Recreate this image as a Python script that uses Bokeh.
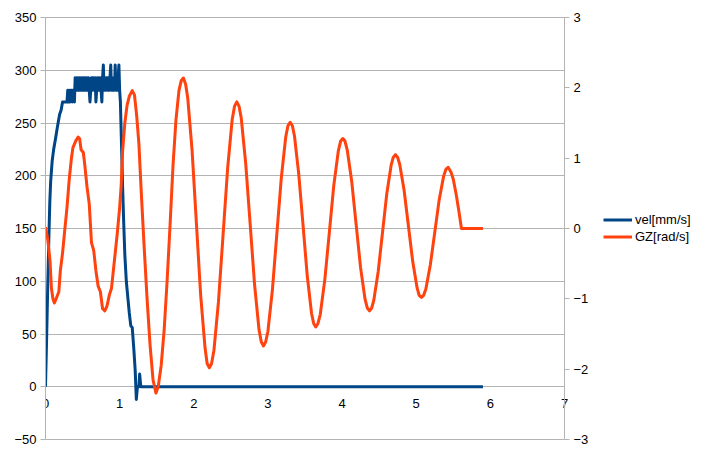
from bokeh.plotting import figure
from bokeh.models import Range1d, LinearAxis, FixedTicker, Legend, LegendItem, ColumnDataSource, BoxAnnotation
from bokeh.embed import file_html
from bokeh.resources import INLINE

# ---- data ----
vel_t = [0.0, 0.015, 0.03, 0.045, 0.058, 0.07, 0.09, 0.11, 0.135, 0.16, 0.19, 0.21, 0.23, 0.25, 0.27, 0.29,
         0.30, 0.31, 0.32, 0.33, 0.34, 0.35, 0.36, 0.37, 0.38, 0.39,
         0.40, 0.41, 0.42, 0.43, 0.44, 0.45, 0.46, 0.47, 0.48, 0.49,
         0.50, 0.51, 0.52, 0.53, 0.54, 0.55, 0.56, 0.57, 0.58, 0.59,
         0.60, 0.61, 0.62, 0.63, 0.64, 0.65, 0.66, 0.67, 0.68, 0.69,
         0.70, 0.71, 0.72, 0.73, 0.74, 0.75, 0.76, 0.77, 0.78, 0.79,
         0.80, 0.81, 0.82, 0.83, 0.84, 0.85, 0.86, 0.87, 0.88, 0.89,
         0.90, 0.91, 0.92, 0.93, 0.94, 0.95, 0.96, 0.97, 0.98, 0.99, 1.00,
         1.01, 1.025, 1.04, 1.055, 1.07, 1.09, 1.11, 1.13, 1.15, 1.17, 1.19, 1.21, 1.225,
         1.24, 1.26, 1.27, 1.285, 5.90]
vel_v = [0, 45, 95, 140, 175, 195, 214, 225, 235, 246, 258, 262, 270, 270, 270, 270,
         281, 270, 281, 270, 281, 281, 270, 281, 281, 270,
         293, 281, 293, 281, 293, 281, 293, 281, 293, 281,
         293, 281, 293, 281, 293, 281, 293, 281, 293, 281,
         270, 281, 293, 281, 293, 293, 281, 293, 270, 281,
         293, 281, 293, 281, 293, 281, 270, 293, 305, 281,
         293, 281, 293, 293, 281, 293, 281, 293, 305, 281,
         293, 281, 293, 281, 305, 281, 293, 281, 293, 305, 281,
         270, 230, 190, 155, 125, 100, 85, 70, 58, 56, 37, 15, -12,
         0, 0, 12, 0, 0]

gz_t = [0.00, 0.03, 0.06, 0.08, 0.10, 0.12, 0.15, 0.18, 0.20, 0.23, 0.26, 0.29, 0.32, 0.35, 0.37,
        0.41, 0.44, 0.46, 0.48, 0.51, 0.53, 0.56, 0.59, 0.62, 0.65, 0.68, 0.71, 0.74, 0.77, 0.80,
        0.83, 0.86, 0.89, 0.92, 0.95, 0.97, 1.00, 1.02, 1.04, 1.07, 1.10, 1.13, 1.17, 1.20, 1.23,
        1.26, 1.29, 1.33, 1.37, 1.41, 1.45, 1.49, 1.52, 1.56, 1.60, 1.64, 1.68, 1.72, 1.76, 1.80,
        1.83, 1.86, 1.89, 1.918, 1.977, 2.035, 2.093, 2.152, 2.18, 2.21, 2.24, 2.272, 2.333, 2.395,
        2.457, 2.518, 2.55, 2.58, 2.61, 2.64, 2.70, 2.76, 2.82, 2.88, 2.91, 2.94, 2.97, 3.00, 3.06,
        3.12, 3.18, 3.24, 3.27, 3.30, 3.33, 3.358, 3.415, 3.473, 3.53, 3.588, 3.617, 3.645, 3.675,
        3.706, 3.767, 3.828, 3.888, 3.949, 3.98, 4.01, 4.04, 4.07, 4.13, 4.19, 4.25, 4.31, 4.34,
        4.37, 4.40, 4.428, 4.487, 4.545, 4.603, 4.662, 4.69, 4.72, 4.75, 4.778, 4.837, 4.895,
        4.953, 5.012, 5.04, 5.07, 5.10, 5.13, 5.19, 5.25, 5.31, 5.37, 5.40, 5.43, 5.47, 5.50,
        5.54, 5.575, 5.61, 5.90]
gz_v = [0.02, -0.15, -0.45, -0.85, -1.00, -1.06, -0.98, -0.90, -0.60, -0.35, -0.02, 0.30, 0.70, 1.00, 1.15,
        1.25, 1.30, 1.28, 1.12, 1.08, 0.90, 0.59, 0.35, -0.20, -0.31, -0.60, -0.82, -0.90, -1.14, -1.17,
        -1.10, -0.95, -0.85, -0.55, -0.25, -0.05, 0.30, 0.60, 1.10, 1.50, 1.75, 1.88, 1.96, 1.90, 1.60,
        1.20, 0.55, -0.25, -1.00, -1.65, -2.15, -2.34, -2.25, -1.95, -1.45, -0.75, 0.05, 0.90, 1.55, 1.96,
        2.10, 2.14, 2.05, 1.86, 1.11, 0.08, -0.95, -1.70, -1.92, -1.98, -1.92, -1.73, -1.04, -0.09,
        0.86, 1.55, 1.74, 1.80, 1.74, 1.57, 0.93, 0.07, -0.80, -1.44, -1.61, -1.67, -1.61, -1.46, -0.875,
        -0.08, 0.715, 1.30, 1.46, 1.51, 1.46, 1.315, 0.78, 0.055, -0.67, -1.205, -1.35, -1.40, -1.35,
        -1.22, -0.73, -0.06, 0.61, 1.10, 1.24, 1.28, 1.24, 1.115, 0.67, 0.055, -0.56, -1.005, -1.13,
        -1.17, -1.13, -1.02, -0.615, -0.06, 0.495, 0.90, 1.01, 1.05, 1.01, 0.91, 0.54, 0.035,
        -0.47, -0.845, -0.95, -0.98, -0.95, -0.86, -0.52, -0.055, 0.41, 0.745, 0.84, 0.87, 0.80, 0.70,
        0.48, 0.25, 0.0, 0.0]

x_ticks = [0, 1, 2, 3, 4, 5, 6, 7]
left_ticks = [-50, 0, 50, 100, 150, 200, 250, 300, 350]
right_ticks = [-3, -2, -1, 0, 1, 2, 3]
series_names = ["vel[mm/s]", "GZ[rad/s]"]

BLUE = "#004586"
ORANGE = "#ff420e"
GRID = "#b3b3b3"
FONT = "Liberation Sans"

# Plot area (in pixels of the figure): x 45..564 for 0..7, y 17..439 for 350..-50.
# The frame is extended to the whole figure so the right-hand axis/legend are never clipped.
W, H = 699, 448
X_END = 7 * (W - 45) / 519.0
Y_TOP = 350 + 17 * 400 / 422.0
Y_BOT = -50 - (H - 439) * 400 / 422.0
R_TOP = 3 + 17 * 6 / 422.0
R_BOT = -3 - (H - 439) * 6 / 422.0

p = figure(width=W, height=H, x_range=Range1d(0, X_END), y_range=Range1d(Y_BOT, Y_TOP),
           output_backend="svg", toolbar_location=None,
           min_border_left=45, min_border_right=0, min_border_top=0, min_border_bottom=0)
p.outline_line_color = None
p.background_fill_color = "white"
p.border_fill_color = "white"

p.extra_y_ranges = {"gz": Range1d(R_BOT, R_TOP)}

# grids
p.xgrid.visible = False
p.ygrid.ticker = FixedTicker(ticks=left_ticks)
p.ygrid.grid_line_color = GRID
p.ygrid.grid_line_width = 1

# white cover so grid lines stop at x = 7 (drawn right after the grid)
p.add_layout(BoxAnnotation(left=7, fill_color="white", fill_alpha=1, line_color=None, level="underlay"))

# x axis crossing at y = 0
xa = p.xaxis[0]
xa.ticker = FixedTicker(ticks=x_ticks)
xa.fixed_location = 0
xa.axis_line_color = None
xa.major_tick_out = 0
xa.major_tick_in = 0
xa.minor_tick_line_color = None
xa.major_label_standoff = 12
xa.major_label_text_font = FONT
xa.major_label_text_font_size = "13px"
xa.major_label_text_color = "#000000"

# left axis
ya = p.yaxis[0]
ya.ticker = FixedTicker(ticks=left_ticks)
ya.bounds = (-50, 350)
ya.axis_line_color = GRID
ya.major_tick_line_color = GRID
ya.major_tick_out = 5
ya.major_tick_in = 0
ya.minor_tick_line_color = None
ya.major_label_standoff = 4
ya.major_label_text_font = FONT
ya.major_label_text_font_size = "13px"
ya.major_label_text_color = "#000000"

# right axis at x = 7
ra = LinearAxis(y_range_name="gz", ticker=FixedTicker(ticks=right_ticks))
ra.fixed_location = 7
ra.bounds = (-3, 3)
ra.axis_line_color = GRID
ra.major_tick_line_color = GRID
ra.major_tick_out = 5
ra.major_tick_in = 0
ra.minor_tick_line_color = None
ra.major_label_standoff = 4
ra.major_label_text_font = FONT
ra.major_label_text_font_size = "13px"
ra.major_label_text_color = "#000000"
p.add_layout(ra, "right")

src_vel = ColumnDataSource(dict(t=vel_t, v=vel_v))
src_gz = ColumnDataSource(dict(t=gz_t, v=gz_v))

r1 = p.line("t", "v", source=src_vel, line_color=BLUE, line_width=3, line_join="round")
r2 = p.line("t", "v", source=src_gz, line_color=ORANGE, line_width=3, line_join="round",
            y_range_name="gz")

legend = Legend(items=[LegendItem(label=series_names[0], renderers=[r1]),
                       LegendItem(label=series_names[1], renderers=[r2])],
                location=(558, H - 245), padding=0, margin=0, spacing=0,
                glyph_width=29, glyph_height=17, label_height=17, label_standoff=3,
                label_text_font=FONT, label_text_font_size="13px", label_text_color="#000000",
                border_line_color=None, background_fill_alpha=0)
p.add_layout(legend, "center")

open("out.html", "w").write(file_html(p, INLINE))
